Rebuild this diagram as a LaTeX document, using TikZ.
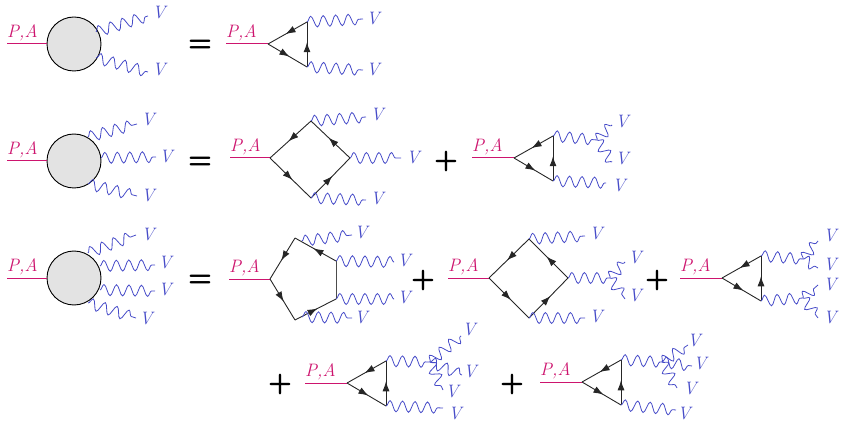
\documentclass[tikz,border=0pt]{standalone}
\usepackage{fontspec}
\setmainfont{Latin Modern Roman}
\usetikzlibrary{decorations.pathmorphing,decorations.markings,arrows.meta}
\definecolor{pacol}{RGB}{205,20,110}
\definecolor{vcol}{RGB}{70,75,200}
\tikzset{
 pa/.style={draw=pacol,line width=1pt},
 pal/.style={text=pacol,font=\fontsize{18}{18}\selectfont\itshape,inner sep=0pt,anchor=south west},
 vl/.style={text=vcol,font=\fontsize{18}{18}\selectfont\itshape,inner sep=0pt},
 photon/.style={draw=vcol,line width=0.8pt,decorate,decoration={snake,amplitude=5.5pt,segment length=12.5pt}},
 ferm/.style={draw=black!85,line width=0.9pt,postaction={decorate},decoration={markings,mark=at position 0.55 with {\arrow{Latex[length=10pt,width=7pt]}}}},
 plain/.style={draw=black!70,line width=1pt},
 blob/.style={circle,draw,fill=gray!22,line width=0.9pt,minimum size=54pt,inner sep=0pt},
 op/.style={font=\fontsize{28}{28}\selectfont\bfseries\sffamily,inner sep=0pt}
}
% wave: name, end point, start, label position
\newcommand\wv[4]{\coordinate (#1) at (#2); \draw[photon] (#3) -- (#1); \node[vl] (#1V) at (#4) {V};}
% fermion triangle: prefix, x, y (left vertex)
\newcommand\ftri[3]{%
 \coordinate (#1s) at (#2-42,#3); \coordinate (#1l) at (#2,#3);
 \coordinate (#1t) at (#2+39,#3-22); \coordinate (#1b) at (#2+39,#3+23);
 \draw[pa] (#1s) -- (#1l); \node[pal] (#1lab) at ([yshift=3pt]#1s) {P,A};
 \draw[ferm] (#1t) -- (#1l); \draw[ferm] (#1l) -- (#1b); \draw[ferm] (#1b) -- (#1t);}
% blob: prefix, y
\newcommand\fblob[2]{%
 \node[blob] (#1c) at (74,#2) {};
 \coordinate (#1s) at (7,#2);
 \draw[pa] (#1s) -- (#1c.west); \node[pal] (#1lab) at ([yshift=3pt]#1s) {P,A};}
\begin{document}
\begin{tikzpicture}[x=1pt,y=-1pt]
\useasboundingbox (0,0) rectangle (845,430);
% ---------- row 1
\fblob{a}{44}
\coordinate (a1) at (96,32); \coordinate (a2) at (96,58);
\wv{a1e}{148,16}{a1}{159,13}
\wv{a2e}{148,72}{a2}{159,70}
\node[op] (eq1) at (200,46) {=};
\ftri{t1}{268}{44}
\wv{t1te}{363,19}{t1t}{373,19}
\wv{t1be}{363,70}{t1b}{373,70}
% ---------- row 2
\fblob{b}{161}
\coordinate (b1) at (88,137); \coordinate (b2) at (101,158); \coordinate (b3) at (88,184);
\wv{b1e}{137,124}{b1}{148,120}
\wv{b2e}{156,157}{b2}{166,157}
\wv{b3e}{137,196}{b3}{148,196}
\node[op] (eq2) at (200,163) {=};
\coordinate (qs) at (230,158); \coordinate (ql) at (270,158); \coordinate (qt) at (311,121);
\coordinate (qr) at (350,158); \coordinate (qb) at (311,198);
\draw[pa] (qs) -- (ql); \node[pal] (qlab) at ([yshift=3pt]qs) {P,A};
\draw[ferm] (qt) -- (ql); \draw[ferm] (ql) -- (qb); \draw[ferm] (qb) -- (qr); \draw[ferm] (qr) -- (qt);
\wv{qte}{366,117}{qt}{377,115}
\wv{qre}{401,158}{qr}{413,158}
\wv{qbe}{366,200}{qb}{377,199}
\node[op] (pl1) at (446,162) {+};
\ftri{t2}{514}{158}
\coordinate (t2x) at (597,140);
\draw[photon] (t2t) -- (t2x);
\wv{t2u}{612,125}{t2x}{622,122}
\wv{t2d}{612,162}{t2x}{622,159}
\wv{t2be}{606,183}{t2b}{619,186}
% ---------- row 3
\fblob{c}{278}
\coordinate (c1) at (88,253); \coordinate (c2) at (100,266); \coordinate (c3) at (100,290); \coordinate (c4) at (88,303);
\wv{c1e}{136,235}{c1}{148,235}
\wv{c2e}{155,265}{c2}{165,263}
\wv{c3e}{155,291}{c3}{165,290}
\wv{c4e}{136,318}{c4}{146,319}
\node[op] (eq3) at (200,281) {=};
\coordinate (ps) at (229,279); \coordinate (pl) at (270,279); \coordinate (pt) at (295,238);
\coordinate (pu) at (336,261); \coordinate (pd) at (336,299); \coordinate (pb) at (295,320);
\draw[pa] (ps) -- (pl); \node[pal] (plab) at ([yshift=3pt]ps) {P,A};
\draw[ferm] (pt) -- (pl); \draw[ferm] (pl) -- (pb); \draw[ferm] (pb) -- (pd);
\draw[plain] (pd) -- (pu); \draw[ferm] (pu) -- (pt);
\coordinate (ptw) at (302,241); \coordinate (pbw) at (302,317);
\wv{pte}{352,235}{ptw}{361,233}
\wv{pue}{394,262}{pu}{404,261}
\wv{pde}{394,299}{pd}{404,298}
\wv{pbe}{352,318}{pbw}{361,318}
\node[op] (pl2) at (423,280) {+};
\coordinate (rs) at (448,278); \coordinate (rl) at (489,278); \coordinate (rt) at (529,239);
\coordinate (rr) at (568,278); \coordinate (rb) at (529,318);
\draw[pa] (rs) -- (rl); \node[pal] (rlab) at ([yshift=3pt]rs) {P,A};
\draw[ferm] (rt) -- (rl); \draw[ferm] (rl) -- (rb); \draw[ferm] (rb) -- (rr); \draw[ferm] (rr) -- (rt);
\wv{rte}{585,236}{rt}{596,234}
\wv{rbe}{585,318}{rb}{596,317}
\coordinate (rx) at (610,278);
\draw[photon] (rr) -- (rx);
\wv{rru}{625,262}{rx}{635,258}
\wv{rrd}{625,299}{rx}{635,296}
\node[op] (pl3) at (657,280) {+};
\ftri{t3}{722}{278}
\coordinate (t3x) at (803,259); \coordinate (t3y) at (803,298);
\draw[photon] (t3t) -- (t3x); \draw[photon] (t3b) -- (t3y);
\wv{t3a}{818,241}{t3x}{830,236}
\wv{t3c}{818,268}{t3x}{830,265}
\wv{t3d}{818,285}{t3y}{830,285}
\wv{t3e}{818,318}{t3y}{830,318}
% ---------- row 4
\node[op] (pl4) at (280,384) {+};
\ftri{t4}{347}{383}
\coordinate (t4x) at (430,362);
\draw[photon] (t4t) -- (t4x);
\wv{t4a}{461,336}{t4x}{469,330}
\wv{t4c}{462,375}{t4x}{470,372}
\wv{t4d}{443,390}{t4x}{452,392}
\wv{t4e}{443,408}{t4b}{455,414}
\node[op] (pl5) at (512,384) {+};
\ftri{t5}{582}{382}
\coordinate (t5x) at (662,362);
\draw[photon] (t5t) -- (t5x);
\wv{t5a}{688,345}{t5x}{694,341}
\wv{t5c}{692,366}{t5x}{700,364}
\wv{t5d}{677,388}{t5x}{690,389}
\wv{t5e}{676,410}{t5b}{684,414}
\end{tikzpicture}
\end{document}
